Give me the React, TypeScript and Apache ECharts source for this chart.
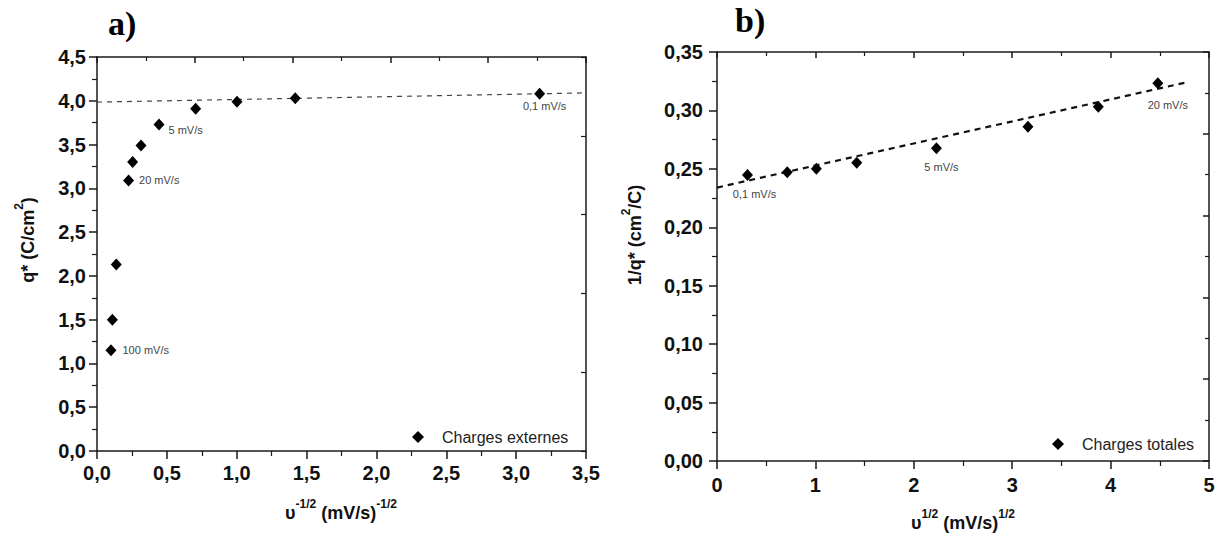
import React, { useEffect, useRef } from "react";
import * as echarts from "echarts";

// ---- Data: panel a) ----
const leftX = [0.1, 0.11, 0.138, 0.226, 0.255, 0.315, 0.444, 0.706, 1.002, 1.419, 3.168];
const leftY = [1.15, 1.5, 2.13, 3.09, 3.3, 3.49, 3.73, 3.91, 3.99, 4.03, 4.08];
const leftLabels = ["100 mV/s", "", "", "20 mV/s", "", "", "5 mV/s", "", "", "", "0,1 mV/s"];
const leftFitX = [0, 3.5];
const leftFitY = [3.985, 4.09];
const leftXTicks = { min: 0, max: 3.5, interval: 0.5 };
const leftYTicks = { min: 0, max: 4.5, interval: 0.5 };

// ---- Data: panel b) ----
const rightX = [0.31, 0.714, 1.01, 1.42, 2.23, 3.16, 3.875, 4.48];
const rightY = [0.2447, 0.247, 0.25, 0.2553, 0.2676, 0.2861, 0.3032, 0.3232];
const rightLabels = ["0,1 mV/s", "", "", "", "5 mV/s", "", "", "20 mV/s"];
const rightFitX = [0, 4.77];
const rightFitY = [0.234, 0.324];
const rightXTicks = { min: 0, max: 5, interval: 1 };
const rightYTicks = { min: 0, max: 0.35, interval: 0.05 };

const legendNames = ["Charges externes", "Charges totales"];

// ---- placement of point annotations (style, not data) ----
const labelPlace: Record<string, any> = {
  "a:100 mV/s": { position: "right", distance: 6 },
  "a:20 mV/s": { position: "right", distance: 5 },
  "a:5 mV/s": { position: "right", distance: 4, offset: [0, 6] },
  "a:0,1 mV/s": { position: "bottom", distance: 1, offset: [5, 0] },
  "b:0,1 mV/s": { position: "bottom", distance: 7, offset: [7, 0] },
  "b:5 mV/s": { position: "bottom", distance: 7, offset: [5, 0] },
  "b:20 mV/s": { position: "bottom", distance: 10, offset: [10, 0] },
};

const FONT = "Liberation Sans";
const AXC = "#1a1a1a";

function buildPoints(xs: number[], ys: number[], labels: string[], key: string) {
  return xs.map((x, i) => {
    const lab = labels[i];
    if (!lab) return { value: [x, ys[i]] };
    const p = labelPlace[key + ":" + lab] || { position: "right" };
    return {
      value: [x, ys[i]],
      label: {
        show: true,
        formatter: lab,
        fontFamily: FONT,
        fontSize: 11,
        color: "#444",
        ...p,
      },
    };
  });
}

const comma = (d: number) => (v: number) => v.toFixed(d).replace(".", ",");

function mainAxis(gridIndex: number, position: string, t: any, fmt: any, margin: number) {
  return {
    gridIndex,
    type: "value",
    position,
    min: t.min,
    max: t.max,
    interval: t.interval,
    axisLine: { show: true, onZero: false, lineStyle: { color: AXC, width: 1.5 } },
    axisTick: { show: true, inside: false, length: 8, lineStyle: { color: AXC, width: 1.5 } },
    minorTick: { show: true, splitNumber: 2, length: 5, lineStyle: { color: AXC, width: 1.2 } },
    splitLine: { show: false },
    minorSplitLine: { show: false },
    axisLabel: {
      show: true,
      formatter: fmt,
      fontFamily: FONT,
      fontWeight: "bold",
      fontSize: 20,
      color: "#111",
      margin,
    },
  };
}

function mirrorAxis(gridIndex: number, position: string, minor: boolean) {
  return {
    gridIndex,
    type: "value",
    position,
    min: 0,
    max: 5,
    interval: 1,
    axisLine: { show: true, onZero: false, lineStyle: { color: AXC, width: 1.5 } },
    axisTick: { show: true, inside: true, length: 6, lineStyle: { color: AXC, width: 1.5 } },
    minorTick: { show: minor, splitNumber: 2, length: 4, lineStyle: { color: AXC, width: 1.2 } },
    splitLine: { show: false },
    minorSplitLine: { show: false },
    axisLabel: { show: false },
  };
}

const nameRich = {
  b: { fontFamily: FONT, fontWeight: "bold", fontSize: 18, fill: "#111", lineHeight: 24, verticalAlign: "bottom" },
  s: { fontFamily: FONT, fontWeight: "bold", fontSize: 12, fill: "#111", lineHeight: 24, verticalAlign: "top" },
};

function nameText(text: string, x: number, y: number, rotation: number) {
  return {
    type: "text",
    x,
    y,
    rotation,
    style: { text, rich: nameRich, align: "center", verticalAlign: "middle", fill: "#111" },
  };
}

function legendCfg(name: string, left: number, top: number) {
  return {
    data: [{ name, icon: "diamond" }],
    left,
    top,
    padding: 0,
    itemWidth: 12,
    itemHeight: 12,
    symbolKeepAspect: true,
    textStyle: { fontFamily: FONT, fontSize: 16, color: "#222", padding: [0, 0, 0, 13] },
  };
}

export default function App() {
  const ref = useRef<HTMLDivElement>(null);
  useEffect(() => {
    document.body.style.margin = "0";
    if (!ref.current) return;
    const chart = echarts.init(ref.current, undefined, { renderer: "svg" });
    const option: any = {
      animation: false,
      backgroundColor: "#fff",
      grid: [
        { left: 97, top: 57, width: 489, height: 394 },
        { left: 717, top: 52, width: 492, height: 409 },
      ],
      xAxis: [
        mainAxis(0, "bottom", leftXTicks, comma(1), 12),
        mirrorAxis(0, "top", true),
        mainAxis(1, "bottom", rightXTicks, comma(0), 14),
        mirrorAxis(1, "top", true),
      ],
      yAxis: [
        mainAxis(0, "left", leftYTicks, comma(1), 11),
        { ...mirrorAxis(0, "right", false), axisTick: { show: true, inside: true, length: 5, lineStyle: { color: AXC, width: 1.2 } } },
        mainAxis(1, "left", rightYTicks, comma(2), 14),
        mirrorAxis(1, "right", true),
      ],
      legend: [legendCfg(legendNames[0], 412, 429), legendCfg(legendNames[1], 1052, 436)],
      graphic: [
        { type: "text", left: 108, top: 6, style: { text: "a)", font: 'bold 34px "Liberation Serif"', fill: "#000" } },
        { type: "text", left: 735, top: 3, style: { text: "b)", font: 'bold 34px "Liberation Serif"', fill: "#000" } },
        nameText("{b|υ}{s|-1/2}{b| (mV/s)}{s|-1/2}", 341, 510, 0),
        nameText("{b|υ}{s|1/2}{b| (mV/s)}{s|1/2}", 963, 520, 0),
        nameText("{b|q* (C/cm}{s|2}{b|)}", 25, 240, Math.PI / 2),
        nameText("{b|1/q* (cm}{s|2}{b|/C)}", 632, 235, Math.PI / 2),
      ],
      series: [
        {
          type: "line",
          xAxisIndex: 0,
          yAxisIndex: 0,
          data: leftFitX.map((x, i) => [x, leftFitY[i]]),
          symbol: "none",
          lineStyle: { color: "#444", width: 1.2, type: [5, 5] },
          silent: true,
          z: 2,
        },
        {
          type: "scatter",
          name: legendNames[0],
          xAxisIndex: 0,
          yAxisIndex: 0,
          symbol: "diamond",
          symbolSize: [11, 12],
          itemStyle: { color: "#000", opacity: 1 },
          data: buildPoints(leftX, leftY, leftLabels, "a"),
          z: 3,
        },
        {
          type: "line",
          xAxisIndex: 2,
          yAxisIndex: 2,
          data: rightFitX.map((x, i) => [x, rightFitY[i]]),
          symbol: "none",
          lineStyle: { color: "#111", width: 2.2, type: [6, 5] },
          silent: true,
          z: 2,
        },
        {
          type: "scatter",
          name: legendNames[1],
          xAxisIndex: 2,
          yAxisIndex: 2,
          symbol: "diamond",
          symbolSize: [11, 12],
          itemStyle: { color: "#000", opacity: 1 },
          data: buildPoints(rightX, rightY, rightLabels, "b"),
          z: 3,
        },
      ],
    };
    chart.setOption(option);
    return () => chart.dispose();
  }, []);
  return <div ref={ref} style={{ width: 1220, height: 540 }} />;
}
